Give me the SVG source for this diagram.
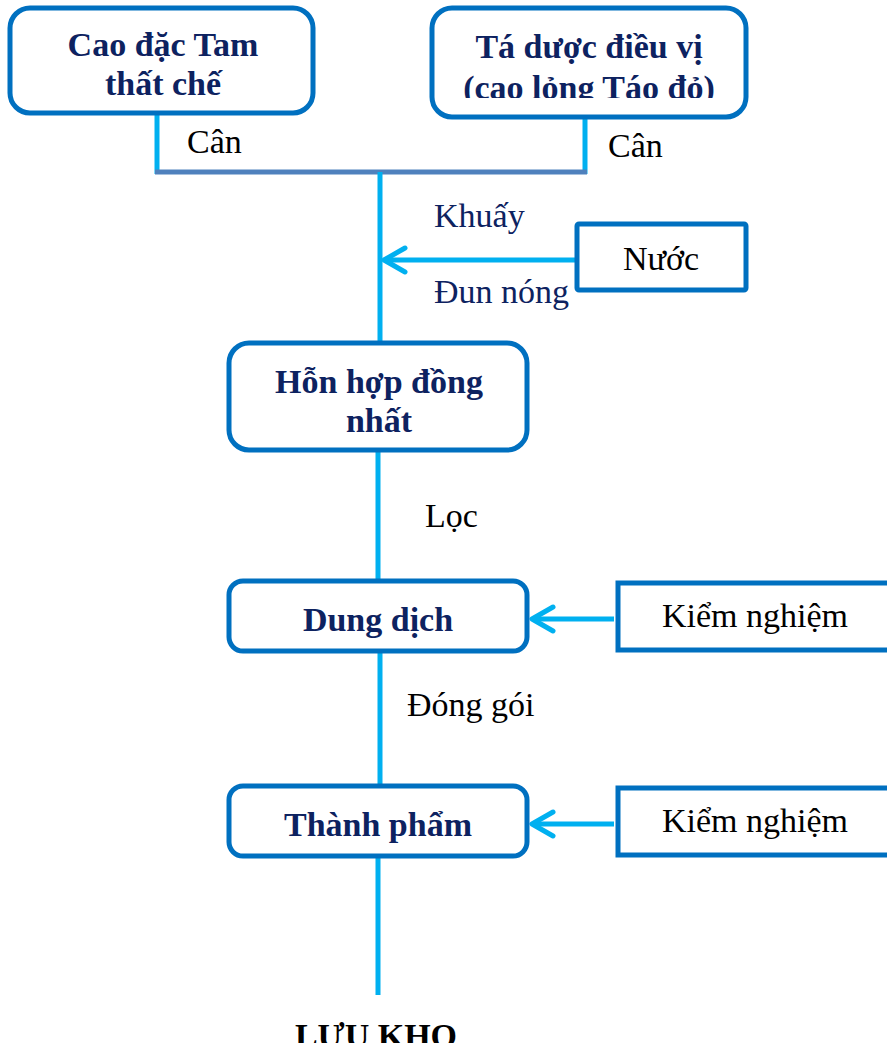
<svg xmlns="http://www.w3.org/2000/svg" width="887" height="1049" viewBox="0 0 887 1049">
<style>
.box{fill:#fff;stroke:#0070C0;stroke-width:5}
.bt{font-family:"Liberation Serif",serif;font-weight:bold;font-size:34px;fill:#0D2260;text-anchor:middle}
.lb{font-family:"Liberation Serif",serif;font-size:34px;fill:#000}
.nv{fill:#0D2260}
.ln{stroke:#00B0F0;stroke-width:5;fill:none}
.ah{stroke:#00B0F0;stroke-width:5;fill:none;stroke-linecap:round;stroke-linejoin:round}
</style>
<defs>
<clipPath id="c2"><rect x="432" y="8" width="314" height="90"/></clipPath>
<clipPath id="c9"><rect x="0" y="1000" width="887" height="43"/></clipPath>
</defs>
<rect width="887" height="1049" fill="#fff"/>
<g id="connectors">
<line class="ln" x1="157" y1="113" x2="157" y2="174"/>
<line class="ln" x1="585" y1="117" x2="585" y2="174"/>
<line x1="155" y1="172" x2="587" y2="172" stroke="#4F81BD" stroke-width="5"/>
<line class="ln" x1="380" y1="172" x2="380" y2="343"/>
<line class="ln" x1="577" y1="260" x2="385" y2="260"/>
<polyline class="ah" points="405,248 384,260 405,272"/>
<line class="ln" x1="378" y1="450" x2="378" y2="580"/>
<line class="ln" x1="380" y1="651" x2="380" y2="786"/>
<line class="ln" x1="614" y1="619" x2="533" y2="619"/>
<polyline class="ah" points="553,607 532,619 553,631"/>
<line class="ln" x1="614" y1="824" x2="533" y2="824"/>
<polyline class="ah" points="553,812 532,824 553,836"/>
<line class="ln" x1="378" y1="856" x2="378" y2="995"/>
<text class="lb" x="187" y="153">Cân</text>
<text class="lb" x="608" y="157">Cân</text>
<text class="lb nv" x="434" y="227">Khuấy</text>
<text class="lb nv" x="434" y="303">Đun nóng</text>
<text class="lb" x="425" y="527">Lọc</text>
<text class="lb" x="407" y="716">Đóng gói</text>
</g>
<g id="n1">
<rect class="box" x="10" y="8" width="303" height="105" rx="20"/>
<text class="bt" x="163" y="56">Cao đặc Tam</text>
<text class="bt" x="163" y="95">thất chế</text>
</g>
<g id="n2">
<rect class="box" x="432" y="8" width="314" height="109" rx="20"/>
<g clip-path="url(#c2)">
<text class="bt" x="589" y="58">Tá dược điều vị</text>
<text class="bt" x="589" y="99">(cao lỏng Táo đỏ)</text>
</g>
</g>
<g id="n3">
<rect class="box" x="577" y="224" width="169" height="66" rx="2"/>
<text class="lb" x="661" y="270" text-anchor="middle">Nước</text>
</g>
<g id="n4">
<rect class="box" x="229" y="343" width="298" height="107" rx="20"/>
<text class="bt" x="379" y="393">Hỗn hợp đồng</text>
<text class="bt" x="379" y="432">nhất</text>
</g>
<g id="n5">
<rect class="box" x="229" y="581" width="298" height="70" rx="14"/>
<text class="bt" x="378" y="631">Dung dịch</text>
</g>
<g id="n6">
<rect class="box" x="618" y="583" width="280" height="67"/>
<text class="lb" x="662" y="627">Kiểm nghiệm</text>
</g>
<g id="n7">
<rect class="box" x="229" y="786" width="298" height="70" rx="14"/>
<text class="bt" x="378" y="836">Thành phẩm</text>
</g>
<g id="n8">
<rect class="box" x="618" y="788" width="280" height="67"/>
<text class="lb" x="662" y="832">Kiểm nghiệm</text>
</g>
<g id="n9" clip-path="url(#c9)">
<text class="bt" x="376" y="1047" style="fill:#000">LƯU KHO</text>
</g>
</svg>
